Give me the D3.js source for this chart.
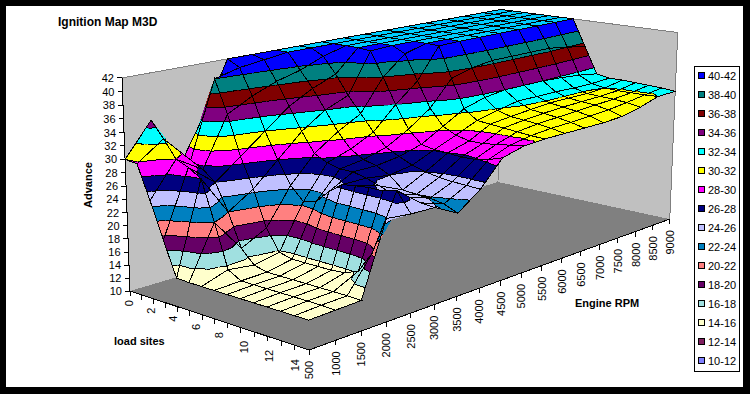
<!DOCTYPE html>
<html>
<head>
<meta charset="utf-8">
<title>Ignition Map M3D</title>
<script src="https://d3js.org/d3.v7.min.js"></script>
<style>
  html, body { margin: 0; padding: 0; background: #000; }
  svg { display: block; }
  text { font-family: "Liberation Sans", Arial, sans-serif; fill: #000; }
</style>
</head>
<body>
<svg id="chart" width="750" height="394"></svg>
<script>
// categories
const rpmLabels = [500,1000,1500,2000,2500,3000,3500,4000,4500,5000,5500,6000,6500,7000,7500,8000,8500,9000];
const loadSites = [0,1,2,3,4,5,6,7,8,9,10,11,12,13,14];
const advanceTicks = [10,12,14,16,18,20,22,24,26,28,30,32,34,36,38,40,42];

// advance per load site, one value per rpm column
const load0  = [30.0,35.0,27.0,34.0,42,42,42,42,42,42,42,42,42,42,42,42,42,42];
const load1  = [29.8,32.6,28.5,40.0,41.0,41.5,42,42,42,42,42,42,42,42,42,42,42,42];
const load2  = [24.8,30.0,27.5,35.0,37.0,38.5,39.5,41.0,42,42,42,42,42,42,42,42,42,42];
const load3  = [19.4,29.2,26.0,29.0,32.0,35.0,37.0,38.5,42,42,42,42,42,42,42,42,42,42];
const load4  = [14.3,28.0,22.0,24.5,28.0,31.5,34.0,35.5,41.8,42,42,42,42,42,42,42,42,42];
const load5  = [14.2,22.0,17.0,19.0,24.5,28.5,31.0,33.0,38.0,41.0,42,42,42,42,42,42,42,42];
const load6  = [14.2,15.5,15.0,15.8,22.5,27.5,28.7,30.5,34.0,37.0,41.9,42,42,42,42,42,42,42];
const load7  = [14.2,14.4,14.5,15.3,23.0,27.0,27.5,28.5,30.5,33.0,37.0,38.0,38.5,38.5,38.5,38.5,38.0,37.5];
const load8  = [14.2,14.4,14.5,15.3,25.0,27.0,27.0,27.5,28.5,30.5,32.5,33.5,34.0,34.0,34.0,33.8,33.5,33.0];
const load9  = [14.2,14.4,14.5,15.3,26.5,26.5,26.0,26.6,28.1,29.5,31.0,31.8,32.5,32.5,32.5,32.4,32.4,32.6];
const load10 = [14.2,14.4,14.5,15.3,26.8,25.8,24.2,26.0,28.0,29.0,30.8,31.2,31.5,31.8,31.8,31.8,32.0,32.6];
const load11 = [14.2,14.4,14.5,15.5,27.0,25.0,24.0,25.6,27.8,29.0,30.6,31.0,31.3,31.5,31.6,31.7,31.9,32.5];
const load12 = [14.2,14.4,14.5,16.3,27.0,25.0,23.9,25.4,27.9,29.3,30.4,30.8,31.0,31.2,31.4,31.6,31.9,32.4];
const load13 = [14.2,14.4,14.5,19.5,27.5,24.7,23.5,25.3,28.3,29.6,30.2,30.5,30.6,30.8,31.0,31.4,31.9,32.3];
const load14 = [14.2,14.3,14.4,25.0,24.6,24.5,22.6,25.2,29.0,29.9,30.1,30.1,30.1,30.1,30.3,31.0,32.0,32.1];
const surface = [load0,load1,load2,load3,load4,load5,load6,load7,load8,load9,load10,load11,load12,load13,load14];

// legend, top to bottom
const bandLabels = ["40-42","38-40","36-38","34-36","32-34","30-32","28-30","26-28","24-26","22-24","20-22","18-20","16-18","14-16","12-14","10-12"];
const bandColors = ["#0000ff","#008080","#800000","#800080","#00ffff","#ffff00","#ff00ff","#000080","#c0c0ff","#0080c0","#ff8080","#660066","#a0e0e0","#ffffcc","#802060","#8080ff"];
const capColor = "#00ccff";

const svg = d3.select("#chart");
svg.attr("shape-rendering", "crispEdges");

svg.append("rect").attr("x", 0).attr("y", 0).attr("width", 750).attr("height", 394).attr("fill", "#000");
svg.append("rect").attr("x", 6).attr("y", 6).attr("width", 737).attr("height", 381).attr("fill", "#fff");

// scales, all onto 0..1 of the box
const uScale = d3.scalePoint().domain(d3.range(rpmLabels.length)).range([0, 1]);
const vScale = d3.scalePoint().domain(loadSites).range([0, 1]);
const wScale = d3.scaleLinear().domain([10, 42]).range([0, 1]);

// floor corners and their depth weights, plus the vanishing point of the verticals
const cL = [130, 291], cB = [498, 182], cF = [309, 350];
const hL = 32.35, hB = 40.33, hF = 29.2;
const vanish = [381, 6969];

function project(u, v, w) {
  const h = hL + u * (hB - hL) + v * (hF - hL) - w;
  const x = hL * cL[0] + u * (hB * cB[0] - hL * cL[0]) + v * (hF * cF[0] - hL * cL[0]) - w * vanish[0];
  const y = hL * cL[1] + u * (hB * cB[1] - hL * cL[1]) + v * (hF * cF[1] - hL * cL[1]) - w * vanish[1];
  return [x / h, y / h];
}
// p = [u, v, z]
const toScreen = p => project(p[0], p[1], wScale(p[2]));
const poly = pts => pts.map(p => p.join(",")).join(" ");

// walls and floor
const wall = svg.append("g");
wall.append("polygon").attr("points", poly([project(0,0,0), project(0,0,1), project(1,0,1), project(1,0,0)])).attr("fill", "#c0c0c0");
wall.append("polygon").attr("points", poly([project(1,0,0), project(1,0,1), project(1,1,1), project(1,1,0)])).attr("fill", "#c0c0c0");
wall.append("polygon").attr("points", poly([project(0,0,0), project(1,0,0), project(1,1,0), project(0,1,0)])).attr("fill", "#808080");
function seg(g, a, b, col) {
  g.append("line").attr("x1", a[0]).attr("y1", a[1]).attr("x2", b[0]).attr("y2", b[1]).attr("stroke", col).attr("stroke-width", 1);
}
seg(wall, project(0,0,1), project(1,0,1), "#808080");
seg(wall, project(1,0,1), project(1,1,1), "#808080");
seg(wall, project(1,1,1), project(1,1,0), "#808080");
seg(wall, project(1,0,0), project(1,0,1), "#808080");

// axes
const axes = svg.append("g");
seg(axes, project(0,0,0), project(0,0,1), "#000");
seg(axes, project(0,0,0), project(0,1,0), "#000");
seg(axes, project(0,1,0), project(1,1,0), "#000");

advanceTicks.forEach(t => {
  const p = project(0, 0, wScale(t));
  seg(axes, [p[0] - 5, p[1]], p, "#000");
  axes.append("text").attr("x", p[0] - 8).attr("y", p[1] + 4).attr("text-anchor", "end").attr("font-size", 11).text(t);
});
loadSites.forEach(l => {
  const p = project(0, vScale(l), 0);
  seg(axes, p, [p[0], p[1] + 5], "#000");
  if (l % 2 === 0) {
    axes.append("text").attr("text-anchor", "end").attr("font-size", 11)
      .attr("transform", `translate(${p[0] + 3 - l * 0.95},${p[1] + 9}) rotate(-90)`).text(l);
  }
});
rpmLabels.forEach((r, j) => {
  const p = project(uScale(j), 1, 0);
  seg(axes, p, [p[0], p[1] + 5], "#000");
  axes.append("text").attr("text-anchor", "end").attr("font-size", 11)
    .attr("transform", `translate(${p[0] + 4},${p[1] + 11}) rotate(-90)`).text(r);
});

// surface: back to front, every cell cut in four around its centre
function clipAbove(pts, level, keepAbove) {
  const out = [];
  pts.forEach((a, k) => {
    const b = pts[(k + 1) % pts.length];
    const ina = keepAbove ? a[2] >= level : a[2] <= level;
    const inb = keepAbove ? b[2] >= level : b[2] <= level;
    if (ina) out.push(a);
    if (ina !== inb) {
      const t = (level - a[2]) / (b[2] - a[2]);
      out.push([a[0] + t * (b[0] - a[0]), a[1] + t * (b[1] - a[1]), level]);
    }
  });
  return out;
}
function bandColor(lo) {
  return lo >= 42 ? capColor : bandColors[(40 - lo) / 2];
}
function drawTriangle(g, tri) {
  const zs = tri.map(p => p[2]);
  const zmin = d3.min(zs), zmax = d3.max(zs);
  for (let lo = 10; lo <= 42; lo += 2) {
    const hi = lo + 2;
    const flat = zmin === zmax && zmin >= lo && zmin < hi;
    if (!flat && (zmax <= lo || zmin >= hi)) continue;
    const part = flat ? tri : clipAbove(clipAbove(tri, lo, true), hi, false);
    if (part.length < 3) continue;
    const col = bandColor(lo);
    g.append("polygon").attr("points", poly(part.map(toScreen))).attr("fill", col).attr("stroke", col).attr("stroke-width", 0.6);
  }
  // contour lines between the colours
  for (let lv = 12; lv <= 42; lv += 2) {
    const cut = [];
    tri.forEach((a, k) => {
      const b = tri[(k + 1) % 3];
      if ((a[2] < lv) !== (b[2] < lv)) {
        const t = (lv - a[2]) / (b[2] - a[2]);
        cut.push([a[0] + t * (b[0] - a[0]), a[1] + t * (b[1] - a[1]), lv]);
      }
    });
    if (cut.length === 2) seg(g, toScreen(cut[0]), toScreen(cut[1]), "#000");
  }
}

const mesh = svg.append("g");
const node = (i, j) => [uScale(j), vScale(i), surface[i][j]];
for (let j = rpmLabels.length - 2; j >= 0; j--) {
  for (let i = 0; i < loadSites.length - 1; i++) {
    const a = node(i, j), b = node(i, j + 1), c = node(i + 1, j + 1), d = node(i + 1, j);
    const m = [(a[0] + c[0]) / 2, (a[1] + c[1]) / 2, (a[2] + b[2] + c[2] + d[2]) / 4];
    const g = mesh.append("g");
    drawTriangle(g, [a, b, m]);
    drawTriangle(g, [b, c, m]);
    drawTriangle(g, [a, d, m]);
    drawTriangle(g, [d, c, m]);
    g.append("polygon").attr("points", poly([a, b, c, d].map(toScreen))).attr("fill", "none").attr("stroke", "#000").attr("stroke-width", 1);
  }
}

// titles
svg.append("text").attr("x", 58).attr("y", 26).attr("font-size", 12).attr("font-weight", "bold").text("Ignition Map M3D");
svg.append("text").attr("transform", "translate(92,185) rotate(-90)").attr("text-anchor", "middle").attr("font-size", 11).attr("font-weight", "bold").text("Advance");
svg.append("text").attr("x", 114).attr("y", 345).attr("font-size", 11).attr("font-weight", "bold").text("load sites");
svg.append("text").attr("x", 575).attr("y", 307).attr("font-size", 11).attr("font-weight", "bold").text("Engine RPM");

// legend
const legend = svg.append("g");
legend.append("rect").attr("x", 694.5).attr("y", 66.5).attr("width", 45).attr("height", 305).attr("fill", "#fff").attr("stroke", "#000");
bandLabels.forEach((lab, k) => {
  const y = 76 + k * 19;
  legend.append("rect").attr("x", 698.5).attr("y", y - 3.5).attr("width", 6).attr("height", 6).attr("fill", bandColors[k]).attr("stroke", "#000");
  legend.append("text").attr("x", 708).attr("y", y + 4).attr("font-size", 11).text(lab);
});
</script>
</body>
</html>
